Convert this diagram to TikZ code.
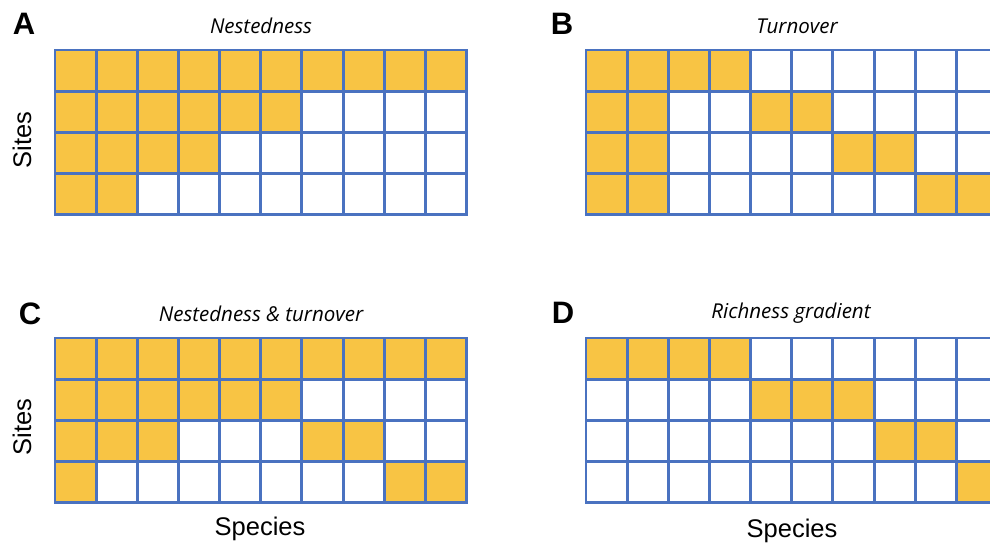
\documentclass[tikz,border=0pt]{standalone}
\usepackage{fontspec}
\setmainfont{Liberation Sans}
\newfontfamily\titlefont{Open Sans}
\definecolor{gridblue}{HTML}{4A72C0}
\definecolor{cellgold}{HTML}{F8C444}
\newcommand\cw{41.15}
\tikzset{
  cellfill/.style={fill=cellgold},
  gridline/.style={draw=gridblue, line width=2.9pt, line cap=rect},
  panelletter/.style={font=\fontsize{31}{36}\selectfont\bfseries, inner sep=0pt},
  paneltitle/.style={font=\titlefont\itshape\fontsize{20.5}{24}\selectfont, inner sep=0pt},
  axislabel/.style={font=\fontsize{25.5}{30}\selectfont, inner sep=0pt},
}
\newcommand\drawpanel[3]{%
  \foreach \c/\r in {#3}
    \fill[cellfill] ({#1+(\c-1)*\cw},{#2+(\r-1)*\cw}) rectangle ++(\cw,\cw);
  \foreach \i in {0,...,10}
    \draw[gridline] ({#1+\i*\cw},{#2}) -- ++(0,{4*\cw});
  \foreach \j in {0,...,4}
    \draw[gridline] ({#1},{#2+\j*\cw}) -- ++({10*\cw},0);
}
\begin{document}
\begin{tikzpicture}[x=1pt,y=-1pt]
\useasboundingbox (0,0) rectangle (990,544);
\clip (0,0) rectangle (990,544);
\fill[white] (0,0) rectangle (990,544);
% Panel A
\drawpanel{55}{50}{1/1,2/1,3/1,4/1,5/1,6/1,7/1,8/1,9/1,10/1,1/2,2/2,3/2,4/2,5/2,6/2,1/3,2/3,3/3,4/3,1/4,2/4}
% Panel B
\drawpanel{586}{50}{1/1,2/1,3/1,4/1,1/2,2/2,5/2,6/2,1/3,2/3,7/3,8/3,1/4,2/4,9/4,10/4}
% Panel C
\drawpanel{55}{338}{1/1,2/1,3/1,4/1,5/1,6/1,7/1,8/1,9/1,10/1,1/2,2/2,3/2,4/2,5/2,6/2,1/3,2/3,3/3,7/3,8/3,1/4,9/4,10/4}
% Panel D
\drawpanel{586}{338}{1/1,2/1,3/1,4/1,5/2,6/2,7/2,8/3,9/3,10/4}
% Labels
\node[panelletter] (la) at (24,24) {A};
\node[panelletter] (lb) at (562,24) {B};
\node[panelletter] (lc) at (30,314) {C};
\node[panelletter] (ld) at (563,313) {D};
\node[paneltitle] (ta) at (261,26) {Nestedness};
\node[paneltitle] (tb) at (797,26) {Turnover};
\node[paneltitle] (tc) at (261,314) {Nestedness \& turnover};
\node[paneltitle] (td) at (791,313) {Richness gradient};
\node[axislabel, rotate=90] (sa) at (22,140) {Sites};
\node[axislabel, rotate=90] (sc) at (22,427) {Sites};
\node[axislabel] (xc) at (260,529) {Species};
\node[axislabel] (xd) at (792,531) {Species};
\end{tikzpicture}
\end{document}
